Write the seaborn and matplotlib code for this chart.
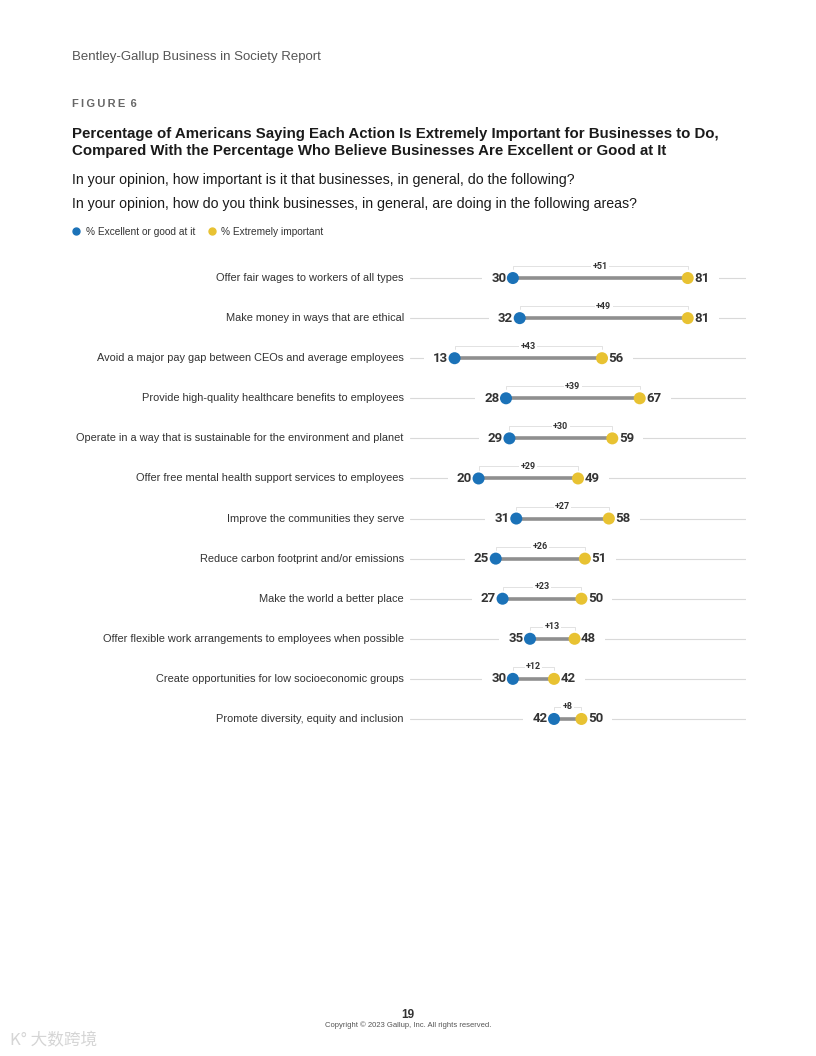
"""
Bentley-Gallup Business in Society Report — Figure 6 dumbbell chart
"""

import pandas as pd
import matplotlib
matplotlib.use('Agg')
import matplotlib.pyplot as plt
import seaborn as sns

# ── Data ───────────────────────────────────────────────────────────────────
actions = [
    'Offer fair wages to workers of all types',
    'Make money in ways that are ethical',
    'Avoid a major pay gap between CEOs and average employees',
    'Provide high-quality healthcare benefits to employees',
    'Operate in a way that is sustainable for the environment and planet',
    'Offer free mental health support services to employees',
    'Improve the communities they serve',
    'Reduce carbon footprint and/or emissions',
    'Make the world a better place',
    'Offer flexible work arrangements to employees when possible',
    'Create opportunities for low socioeconomic groups',
    'Promote diversity, equity and inclusion',
]
good_at = [30, 32, 13, 28, 29, 20, 31, 25, 27, 35, 30, 42]
important = [81, 81, 56, 67, 59, 49, 58, 51, 50, 48, 42, 50]

BLUE = '#1b72b8'
YELLOW = '#e8c232'
TXT = '#333333'
NUM_FONT = ['Roboto', 'Liberation Sans', 'DejaVu Sans']

sns.set_theme(style='white')
plt.rcParams['font.family'] = ['Liberation Sans', 'Noto Sans CJK SC', 'DejaVu Sans']

df = pd.DataFrame({'action': actions, 'good': good_at, 'imp': important})
df['row'] = range(len(df))
long = df.melt(id_vars=['action', 'row'], value_vars=['good', 'imp'],
               var_name='series', value_name='pct')

fig = plt.figure(figsize=(8.16, 10.56), dpi=100)
ax = fig.add_axes([410 / 816, 1 - 739 / 1056, 336 / 816, 481 / 1056])

# light guide lines behind everything, broken around the dumbbell + labels
for r in df['row']:
    ax.plot([0, 98], [r, r], color='#d9d9d9', lw=0.8, zorder=0)
ax.hlines(df['row'], df['good'] - 9, df['imp'] + 9, color='white', lw=3, zorder=1)

# connector bars
ax.hlines(df['row'], df['good'], df['imp'], color='#8f8f8f', lw=2.6, zorder=2)

sns.scatterplot(data=long, x='pct', y='row', hue='series',
                palette={'good': BLUE, 'imp': YELLOW}, s=75,
                edgecolor='none', legend=False, ax=ax, zorder=3)

for _, d in df.iterrows():
    r = d['row']
    ax.text(d['good'] - 1.9, r, f"{d['good']}", ha='right', va='center',
            fontsize=9.5, fontweight='bold', color=TXT, zorder=4, family=NUM_FONT)
    ax.text(d['imp'] + 1.9, r, f"{d['imp']}", ha='left', va='center',
            fontsize=9.5, fontweight='bold', color=TXT, zorder=4, family=NUM_FONT)
    # gap bracket
    yb = r - 0.3
    ax.plot([d['good'], d['good'], d['imp'], d['imp']],
            [yb + 0.08, yb, yb, yb + 0.08], color='#dddddd', lw=0.6, zorder=1)
    mid = (d['good'] + d['imp']) / 2
    ax.text(mid, yb, f"+{d['imp'] - d['good']}", ha='center', va='center',
            fontsize=6.5, fontweight='bold', color=TXT, zorder=4, family=NUM_FONT,
            bbox=dict(boxstyle='square,pad=0.15', fc='white', ec='none'))
    ax.text(-1.8, r, d['action'], ha='right', va='center', fontsize=7.9,
            color=TXT)

ax.set_xlim(0, 98)
ax.set_ylim(len(df) - 0.5, -0.5)
ax.set_xticks([])
ax.set_yticks([])
ax.set_xlabel('')
ax.set_ylabel('')
for s in ax.spines.values():
    s.set_visible(False)

# ── Page text ──────────────────────────────────────────────────────────────
def px(x, y):
    return x / 816, 1 - y / 1056

fig.text(*px(72, 57), 'Bentley-Gallup Business in Society Report', fontsize=9.5,
         color='#555555', va='center')
fig.text(*px(72, 104), '\u2009'.join('FIGURE') + '\u2009 6', fontsize=8,
         color='#666666', fontweight='bold', va='center')
fig.text(*px(72, 134), 'Percentage of Americans Saying Each Action Is Extremely Important for Businesses to Do,',
         fontsize=10.8, fontweight='bold', color='#1a1a1a', va='center')
fig.text(*px(72, 151), 'Compared With the Percentage Who Believe Businesses Are Excellent or Good at It',
         fontsize=10.8, fontweight='bold', color='#1a1a1a', va='center')
fig.text(*px(72, 180), 'In your opinion, how important is it that businesses, in general, do the following?',
         fontsize=10.2, color='#1a1a1a', va='center')
fig.text(*px(72, 204), 'In your opinion, how do you think businesses, in general, are doing in the following areas?',
         fontsize=10.2, color='#1a1a1a', va='center')

# legend
fig.add_artist(plt.Line2D([76 / 816], [1 - 231 / 1056], marker='o', ms=5,
                          color=BLUE, lw=0, transform=fig.transFigure))
fig.text(*px(86, 232), '% Excellent or good at it', fontsize=7.3, color=TXT, va='center')
fig.add_artist(plt.Line2D([212 / 816], [1 - 231 / 1056], marker='o', ms=5,
                          color=YELLOW, lw=0, transform=fig.transFigure))
fig.text(*px(221, 232), '% Extremely important', fontsize=7.3, color=TXT, va='center')

# footer
fig.text(*px(408, 1015), '19', fontsize=8.5, fontweight='bold', color=TXT,
         ha='center', va='center')
fig.text(*px(408, 1025), 'Copyright © 2023 Gallup, Inc. All rights reserved.',
         fontsize=5.5, color='#555555', ha='center', va='center')
fig.text(*px(10, 1041), 'K° 大数跨境', fontsize=12, color='#d5d5d5',
         va='center', family=['Noto Sans CJK SC', 'DejaVu Sans'])

fig.savefig('out.png', dpi=100)
plt.close(fig)
